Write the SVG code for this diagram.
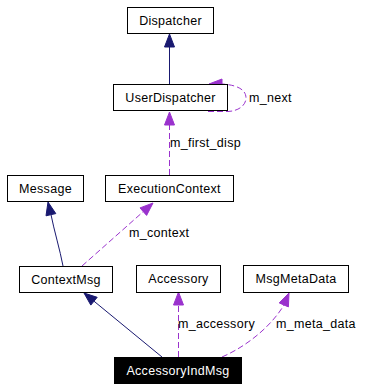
<svg xmlns="http://www.w3.org/2000/svg" width="384" height="389" viewBox="0 0 384 389">
  <style>
    .box rect { fill: #ffffff; stroke: #000000; stroke-width: 1; }
    .box text { font-family: "Liberation Sans", Arial, sans-serif; font-size: 12.5px; letter-spacing: 0.3px; fill: #000000; text-anchor: middle; }
    .box.focus rect { fill: #000000; }
    .box.focus text { fill: #ffffff; }
    .inherit { fill: none; stroke: #191970; stroke-width: 1; }
    .inherit-head { fill: #191970; stroke: #191970; }
    .usage { fill: none; stroke: #9a32cd; stroke-width: 1; stroke-dasharray: 6,3; }
    .usage-head { fill: #9a32cd; stroke: #9a32cd; }
    .label { font-family: "Liberation Sans", Arial, sans-serif; font-size: 12.5px; letter-spacing: 0.3px; fill: #000000; }
  </style>

  <rect width="384" height="389" fill="#ffffff"/>

  <g id="connectors">
    <!-- UserDispatcher derives from Dispatcher -->
    <line class="inherit" x1="169.5" y1="84" x2="169.5" y2="47"/>
    <polygon class="inherit-head" points="169.5,34 164.5,47 174.5,47"/>

    <!-- UserDispatcher::m_next (self reference) -->
    <path class="usage" d="M 208,111.5 L 228,111.5 C 239,111 246,105 246,98 C 246,90 238,85 222,84"/>
    <polygon class="usage-head" points="209,84 222,79 222,89"/>
    <text class="label" x="249" y="102">m_next</text>

    <!-- ExecutionContext::m_first_disp -->
    <line class="usage" x1="169.5" y1="175" x2="169.5" y2="125"/>
    <polygon class="usage-head" points="169.5,112 164.5,125 174.5,125"/>
    <text class="label" x="170" y="147">m_first_disp</text>

    <!-- ContextMsg derives from Message -->
    <path class="inherit" d="M 63,266 C 60,250 54,230 51,214.7"/>
    <polygon class="inherit-head" points="48,202 55.8,213.6 46,215.8"/>

    <!-- ContextMsg::m_context -->
    <line class="usage" x1="82" y1="266" x2="143.3" y2="211.6"/>
    <polygon class="usage-head" points="153,203 146.6,215.4 140,207.9"/>
    <text class="label" x="129" y="237">m_context</text>

    <!-- AccessoryIndMsg derives from ContextMsg -->
    <line class="inherit" x1="162" y1="357" x2="94" y2="301.2"/>
    <polygon class="inherit-head" points="84,293 97.2,297.3 90.8,305.1"/>

    <!-- AccessoryIndMsg::m_accessory -->
    <line class="usage" x1="178.5" y1="357" x2="178.5" y2="305"/>
    <polygon class="usage-head" points="178.5,292 173.5,305 183.5,305"/>
    <text class="label" x="178" y="328">m_accessory</text>

    <!-- AccessoryIndMsg::m_meta_data -->
    <path class="usage" d="M 222,357 C 245,347 270,328 284,305"/>
    <polygon class="usage-head" points="289,293 288.4,306.9 279.2,302.9"/>
    <text class="label" x="276" y="328">m_meta_data</text>
  </g>

  <g id="node-dispatcher" class="box">
    <rect x="127.5" y="7.5" width="86" height="26"/>
    <text x="170.5" y="24.5">Dispatcher</text>
  </g>

  <g id="node-userdispatcher" class="box">
    <rect x="113.5" y="84.5" width="114" height="26"/>
    <text x="170.5" y="101.5">UserDispatcher</text>
  </g>

  <g id="node-message" class="box">
    <rect x="7.5" y="175.5" width="76" height="26"/>
    <text x="45.5" y="192.5">Message</text>
  </g>

  <g id="node-executioncontext" class="box">
    <rect x="105.5" y="175.5" width="128" height="26"/>
    <text x="169.5" y="192.5">ExecutionContext</text>
  </g>

  <g id="node-contextmsg" class="box">
    <rect x="19.5" y="266.5" width="93" height="26"/>
    <text x="66" y="283.5">ContextMsg</text>
  </g>

  <g id="node-accessory" class="box">
    <rect x="136.5" y="265.5" width="84" height="27"/>
    <text x="178.5" y="283">Accessory</text>
  </g>

  <g id="node-msgmetadata" class="box">
    <rect x="243.5" y="265.5" width="105" height="27"/>
    <text x="296" y="283">MsgMetaData</text>
  </g>

  <g id="node-accessoryindmsg" class="box focus">
    <rect x="114.5" y="357.5" width="127" height="26"/>
    <text x="178" y="374.5">AccessoryIndMsg</text>
  </g>
</svg>
